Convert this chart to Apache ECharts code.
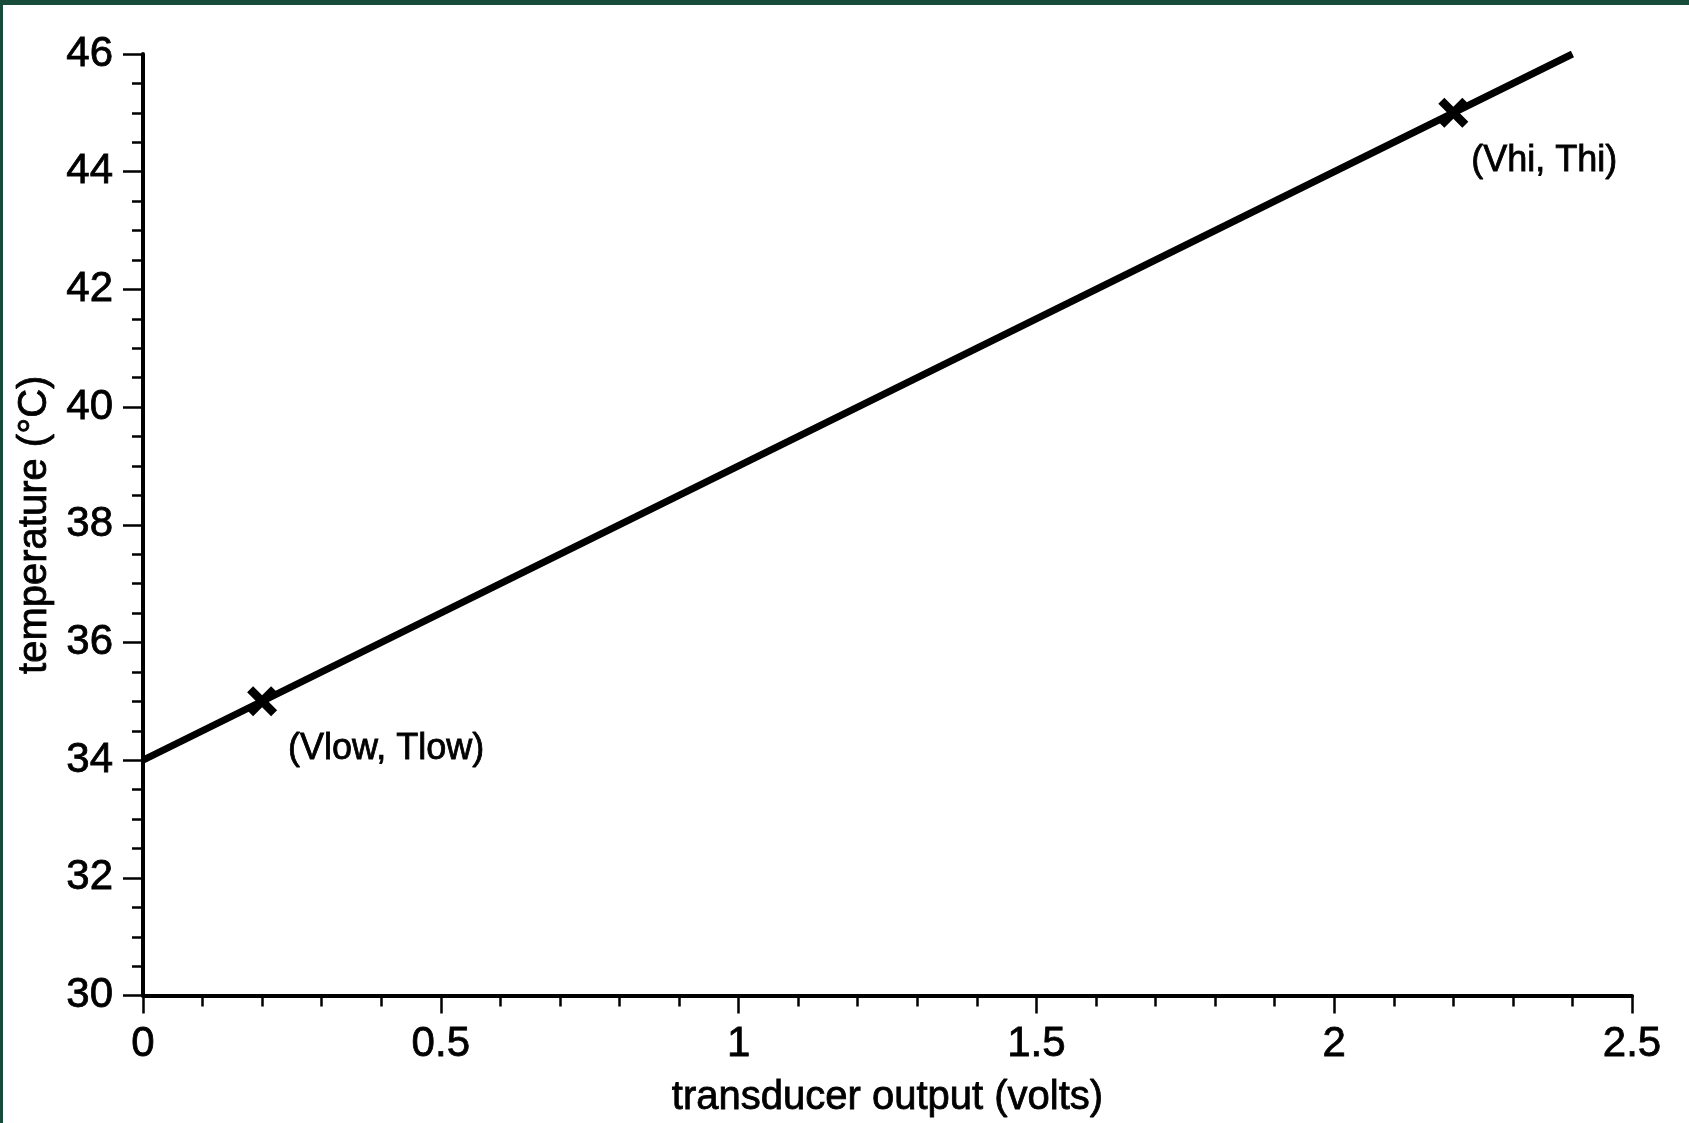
<!DOCTYPE html>
<html>
<head>
<meta charset="utf-8">
<script src="https://cdn.jsdelivr.net/npm/echarts@6/dist/echarts.min.js"></script>
<style>
html,body{margin:0;padding:0;background:#fff;}
#c{width:1689px;height:1123px;}
</style>
</head>
<body>
<div id="c"></div>
<script>
// Data
const lineV = [0, 2.4];
const lineT = [34, 46];
const pointV = [0.2, 2.2];
const pointT = [35, 45];
const pointLabels = ['(Vlow, Tlow)', '(Vhi, Thi)'];
const xTitle = 'transducer output (volts)';
const yTitle = 'temperature (°C)';

const FONT = "'Liberation Sans', Arial, Helvetica, sans-serif";
const chart = echarts.init(document.getElementById('c'), null, {renderer: 'canvas'});
const xPath = 'path://M0,4 L4,0 L10,6 L16,0 L20,4 L14,10 L20,16 L16,20 L10,14 L4,20 L0,16 L6,10 Z';

const labelOffsets = [[124, 48], [91, 48]];
const thick = {textBorderColor: '#000', textBorderWidth: 0.8};

chart.setOption({
  backgroundColor: '#ffffff',
  animation: false,
  graphic: [
    {type: 'rect', shape: {x: 0, y: 0, width: 1689, height: 5}, style: {fill: '#164c39'}, z: 100},
    {type: 'rect', shape: {x: 0, y: 0, width: 3, height: 1123}, style: {fill: '#164c39'}, z: 100}
  ],
  grid: {left: 143, right: 57, top: 54, bottom: 127, containLabel: false},
  xAxis: {
    type: 'value', min: 0, max: 2.5, interval: 0.5,
    name: xTitle, nameLocation: 'middle', nameGap: 82,
    nameTextStyle: Object.assign({fontFamily: FONT, fontSize: 40, color: '#000'}, thick),
    axisLine: {show: true, lineStyle: {color: '#000', width: 4}},
    axisTick: {show: true, length: 18, lineStyle: {color: '#000', width: 2.5}},
    minorTick: {show: true, splitNumber: 5, length: 11, lineStyle: {color: '#000', width: 2.5}},
    axisLabel: Object.assign({fontFamily: FONT, fontSize: 42, color: '#000', margin: 28,
      formatter: v => String(v)}, thick),
    splitLine: {show: false}, minorSplitLine: {show: false}
  },
  yAxis: {
    type: 'value', min: 30, max: 46, interval: 2,
    name: yTitle, nameLocation: 'middle', nameGap: 76,
    nameTextStyle: Object.assign({fontFamily: FONT, fontSize: 40, color: '#000'}, thick),
    axisLine: {show: true, lineStyle: {color: '#000', width: 4}},
    axisTick: {show: true, length: 20, lineStyle: {color: '#000', width: 2.5}},
    minorTick: {show: true, splitNumber: 4, length: 11, lineStyle: {color: '#000', width: 2.5}},
    axisLabel: Object.assign({fontFamily: FONT, fontSize: 42, color: '#000', margin: 30}, thick),
    splitLine: {show: false}, minorSplitLine: {show: false}
  },
  series: [
    {
      type: 'line',
      data: lineV.map((v, i) => [v, lineT[i]]),
      symbol: 'none',
      lineStyle: {color: '#000', width: 7},
      z: 2
    },
    {
      type: 'scatter',
      data: pointV.map((v, i) => ({
        value: [v, pointT[i]],
        label: Object.assign({
          show: true, formatter: pointLabels[i], position: 'inside',
          offset: labelOffsets[i],
          fontFamily: FONT, fontSize: 36, color: '#000'
        }, thick)
      })),
      symbol: xPath,
      symbolSize: 30,
      itemStyle: {color: '#000', opacity: 1},
      z: 3
    }
  ]
});
</script>
</body>
</html>
